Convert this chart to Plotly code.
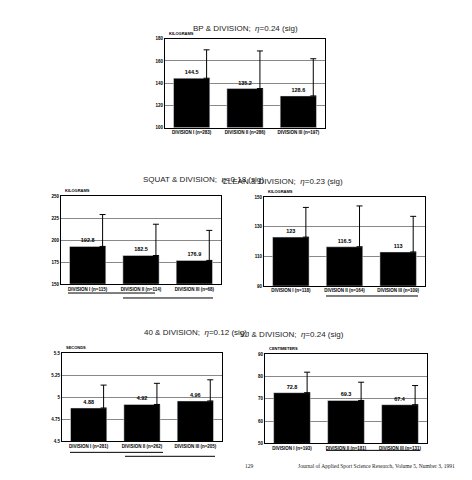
import plotly.graph_objects as go

W, H = 472, 480

bp_cats = ["DIVISION I (n=283)", "DIVISION II (n=286)", "DIVISION III (n=197)"]
bp_vals = [144.5, 135.2, 128.6]
bp_err = [25.5, 33.8, 33.4]

squat_cats = ["DIVISION I (n=115)", "DIVISION II (n=114)", "DIVISION III (n=68)"]
squat_vals = [192.8, 182.5, 176.9]
squat_err = [36.2, 35.5, 34.1]

clean_cats = ["DIVISION I (n=118)", "DIVISION II (n=164)", "DIVISION III (n=109)"]
clean_vals = [123, 116.5, 113]
clean_err = [20, 27.5, 24]

forty_cats = ["DIVISION I (n=281)", "DIVISION II (n=262)", "DIVISION III (n=205)"]
forty_vals = [4.88, 4.92, 4.96]
forty_err = [0.26, 0.24, 0.24]

vj_cats = ["DIVISION I (n=193)", "DIVISION II (n=181)", "DIVISION III (n=131)"]
vj_vals = [72.8, 69.3, 67.4]
vj_err = [9.2, 8.2, 8.6]

charts = [
    dict(title="BP & DIVISION;  <i>η</i>=0.24 (sig)", unit="KILOGRAMS", cats=bp_cats, vals=bp_vals, err=bp_err,
         rng=[100, 180], dt=20, box=(157, 29, 317, 119), ty=12, lbl="{:.1f}",
         lines=[]),
    dict(title="SQUAT & DIVISION;  <i>η</i>=0.18 (sig)", unit="KILOGRAMS", cats=squat_cats, vals=squat_vals, err=squat_err,
         rng=[150, 250], dt=25, box=(53, 188, 213, 277), ty=171, lbl="{:.1f}",
         lines=[(60, 147, 286), (115, 205, 291)]),
    dict(title="CLEAN & DIVISION;  <i>η</i>=0.23 (sig)", unit="KILOGRAMS", cats=clean_cats, vals=clean_vals, err=clean_err,
         rng=[90, 150], dt=20, box=(256, 189, 417, 279), ty=173, lbl="{:g}",
         lines=[(318, 410, 289)]),
    dict(title="40 & DIVISION;  <i>η</i>=0.12 (sig)", unit="SECONDS", cats=forty_cats, vals=forty_vals, err=forty_err,
         rng=[4.5, 5.5], dt=0.25, box=(54, 347, 214, 436), ty=332, lbl="{:.2f}",
         lines=[(62, 155, 447), (117, 207, 451)]),
    dict(title="VJ & DIVISION;  <i>η</i>=0.24 (sig)", unit="CENTIMETERS", cats=vj_cats, vals=vj_vals, err=vj_err,
         rng=[50, 90], dt=10, box=(257, 348, 419, 438), ty=334, lbl="{:.1f}",
         lines=[(318, 412, 445)]),
]

fig = go.Figure()
shapes, annos = [], []
layout = {}
for i, c in enumerate(charts):
    n = "" if i == 0 else str(i + 1)
    xa, ya = "x" + n, "y" + n
    x0, y0, x1, y1 = c["box"]
    xs = [0, 1, 2]
    fig.add_trace(go.Bar(x=xs, y=[v - c["rng"][0] for v in c["vals"]], base=c["rng"][0],
                         width=0.68, marker=dict(color="black"), xaxis=xa, yaxis=ya,
                         text=["<b>" + c["lbl"].format(v) + "</b>" for v in c["vals"]], textposition="outside",
                         textfont=dict(size=5.5, color="black"), cliponaxis=False, showlegend=False))
    fig.add_trace(go.Scatter(x=[x + 0.28 for x in xs], y=c["vals"], mode="markers",
                             marker=dict(size=1, color="black"),
                             error_y=dict(type="data", symmetric=False, array=c["err"],
                                          arrayminus=[0, 0, 0], color="black", thickness=1, width=3),
                             xaxis=xa, yaxis=ya, showlegend=False))
    ticks = []
    t = c["rng"][0]
    while t <= c["rng"][1] + 1e-9:
        ticks.append(round(t, 2)); t += c["dt"]
    layout["xaxis" + n] = dict(domain=[x0 / W, x1 / W], anchor=ya, range=[-0.5, 2.5],
                               tickvals=xs, ticktext=["<b>" + s + "</b>" for s in c["cats"]],
                               tickfont=dict(size=4.5, color="black"),
                               showline=True, linecolor="black", mirror=True, linewidth=1,
                               showgrid=False, zeroline=False, ticks="")
    layout["yaxis" + n] = dict(domain=[1 - y1 / H, 1 - y0 / H], anchor=xa, range=c["rng"],
                               tickvals=ticks, ticktext=[f"<b>{v:g}</b>" for v in ticks],
                               tickfont=dict(size=4.5, color="black"),
                               showline=True, linecolor="black", mirror=True, linewidth=1,
                               showgrid=True, gridcolor="#888", gridwidth=0.8, zeroline=False, ticks="")
    annos.append(dict(text=c["title"], x=(x0 + x1) / 2 / W, y=1 - c["ty"] / H,
                      xref="paper", yref="paper", showarrow=False, font=dict(size=8, color="#222")))
    annos.append(dict(text="<b>" + c["unit"] + "</b>", x=(x0 + 2) / W, y=1 - (y0 - 1) / H, xanchor="left",
                      yanchor="bottom", xref="paper", yref="paper", showarrow=False,
                      font=dict(size=4, color="black")))
    for (a, b, yy) in c["lines"]:
        shapes.append(dict(type="line", xref="paper", yref="paper", x0=a / W, x1=b / W,
                           y0=1 - yy / H, y1=1 - yy / H, line=dict(color="black", width=1)))

annos.append(dict(text="129", x=242 / W, y=1 - 466 / H, xref="paper", yref="paper", showarrow=False,
                  font=dict(size=5.5, color="#222", family="Liberation Serif")))
annos.append(dict(text="Journal of Applied Sport Science Research, Volume 5, Number 3, 1991",
                  x=288 / W, y=1 - 466 / H, xanchor="left", xref="paper", yref="paper", showarrow=False,
                  font=dict(size=5.5, color="#222", family="Liberation Serif")))

fig.update_layout(width=W, height=H, margin=dict(l=0, r=0, t=0, b=0), paper_bgcolor="white",
                  plot_bgcolor="white", bargap=0.3, shapes=shapes, annotations=annos,
                  font=dict(family="Liberation Sans"), **layout)
fig.write_html("out.html")
